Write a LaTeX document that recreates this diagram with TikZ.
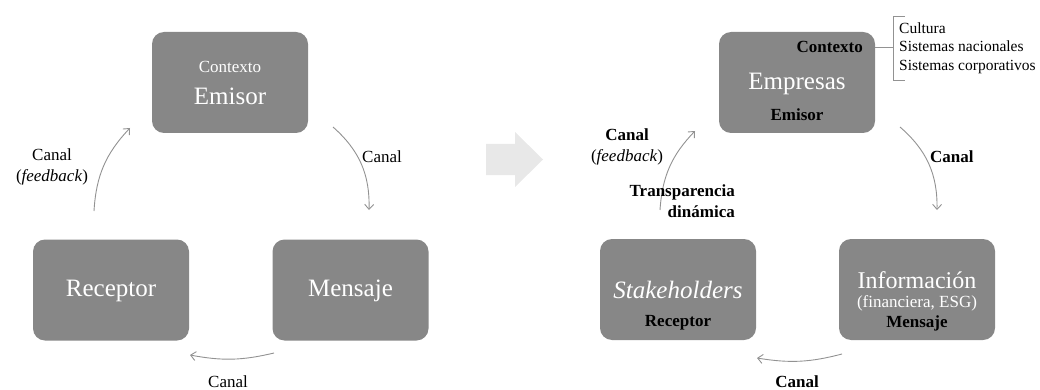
\documentclass[tikz,border=0pt]{standalone}
\usepackage{fontspec}
\setmainfont{Liberation Serif}
\usetikzlibrary{arrows.meta}
\definecolor{boxgray}{HTML}{878787}
\definecolor{arrowgray}{HTML}{E8E8E8}
\definecolor{linegray}{HTML}{929292}
\newcommand{\fsbig}{\fontsize{25}{28}\selectfont}
\newcommand{\fsmid}{\fontsize{17}{21}\selectfont}
\newcommand{\fssmall}{\fontsize{15.5}{18.5}\selectfont}
\begin{document}
\begin{tikzpicture}[x=1pt, y=-1pt,
  box/.style={rectangle, rounded corners=12pt, fill=boxgray, minimum width=156pt, minimum height=101pt, inner sep=0pt},
  wtxt/.style={text=white, inner sep=0pt, font=\fsbig},
  lbl/.style={inner sep=0pt, font=\fsmid},
  conn/.style={draw=linegray, line width=0.9pt, -{Straight Barb[length=5pt, width=9pt]}}]

\useasboundingbox (0,0) rectangle (1040,390);

% left cycle
\node[box] (emisorL) at (230,82.5) {};
\node[box] (receptorL) at (111,290) {};
\node[box] (mensajeL) at (350.5,290) {};

\node[text=white, inner sep=0pt, font=\fsmid] (ctxL) at (230,67) {Contexto};
\node[wtxt] (emL) at (230,96) {Emisor};
\node[wtxt] (recL) at (111,291) {Receptor};
\node[wtxt] (menL) at (350.5,291) {Mensaje};

\coordinate (a1) at (333,127);
\coordinate (a2) at (369,210);
\coordinate (b1) at (274,353);
\coordinate (b2) at (190,355);
\coordinate (c1) at (94,211);
\coordinate (c2) at (130,128);
\draw[conn] (a1) to[bend left=25] (a2);
\draw[conn] (b1) to[bend left=12] (b2);
\draw[conn] (c1) to[bend left=20] (c2);

\node[lbl, anchor=west] (canalL1) at (362,157) {Canal};
\node[lbl] (canalL2) at (228,382) {Canal};
\node[lbl, align=center] (canalL3) at (52,167) {Canal\\(\textit{feedback})};

% arrow between the two
\path[fill=arrowgray] (486,144) -- (515,144) -- (515,132) -- (543,159.5) -- (515,187) -- (515,175) -- (486,175) -- cycle;

% right cycle
\node[box] (empresas) at (797,82.5) {};
\node[box] (stake) at (678,289.5) {};
\node[box] (info) at (917,289.5) {};

\node[lbl, font=\fsmid\bfseries, anchor=east] (ctxR) at (863,47) {Contexto};
\node[wtxt] (empR) at (797,84) {Empresas};
\node[lbl, font=\fsmid\bfseries] (emR) at (797,115) {Emisor};
\node[wtxt, font=\fsbig\itshape] (stR) at (678,290) {Stakeholders};
\node[lbl, font=\fsmid\bfseries] (recR) at (678,323) {Receptor};
\node[wtxt, font=\fontsize{24}{28}\selectfont] (infR) at (917,280) {Información};
\node[text=white, inner sep=0pt, font=\fsmid] (finR) at (917,303) {(financiera, ESG)};
\node[lbl, font=\fsmid\bfseries] (menR) at (917,323) {Mensaje};

\coordinate (d1) at (900,127);
\coordinate (d2) at (937,210);
\coordinate (e1) at (842,354);
\coordinate (e2) at (757,358);
\coordinate (f1) at (660,210);
\coordinate (f2) at (695,131);
\draw[conn] (d1) to[bend left=25] (d2);
\draw[conn] (e1) to[bend left=12] (e2);
\draw[conn] (f1) to[bend left=20] (f2);

\node[lbl, font=\fsmid\bfseries, anchor=west] (canalR1) at (930,157) {Canal};
\node[lbl, font=\fsmid\bfseries] (canalR2) at (797,382) {Canal};
\node[lbl, align=center] (canalR3) at (627,147) {\textbf{Canal}\\(\textit{feedback})};
\node[lbl, font=\fsmid\bfseries, align=right, anchor=east] (transp) at (735,201) {Transparencia\\dinámica};

% context list
\coordinate (br) at (893,47);
\draw[linegray, line width=0.8pt] (empresas.east |- br) -- (br);
\draw[linegray, line width=0.8pt] (905,16) -- (893,16) -- (893,80) -- (905,80);
\node[inner sep=0pt, font=\fssmall, align=left, anchor=west] (ctxlist) at (899,48) {Cultura\\Sistemas nacionales\\Sistemas corporativos};
\end{tikzpicture}
\end{document}
